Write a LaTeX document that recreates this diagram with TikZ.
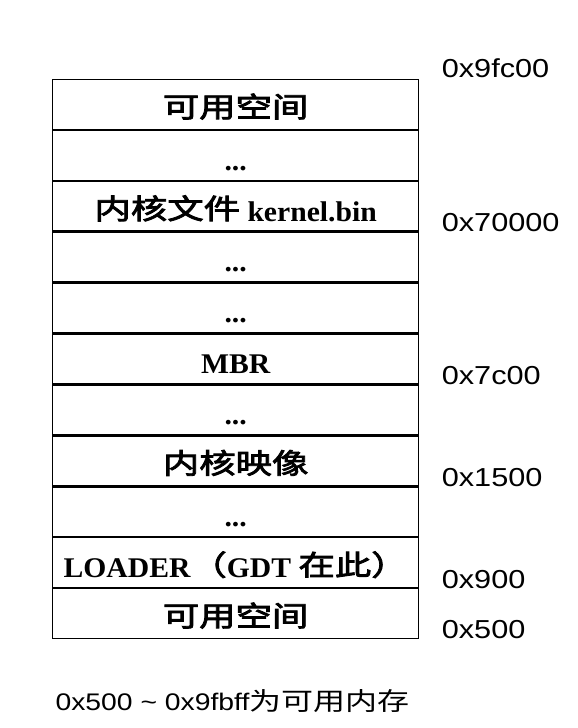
\documentclass[tikz,border=0pt]{standalone}
\usepackage{fontspec}
\setmainfont{Liberation Serif}[FakeStretch=1.04]
\setsansfont{Liberation Sans}[FakeStretch=1.18]
\newfontfamily\cjk{Noto Sans CJK SC}[FakeStretch=1.28]
\newfontfamily\cjkbox{Noto Sans CJK SC}[FakeStretch=1.3,FakeBold=3]
\usetikzlibrary{positioning}
\newcommand{\zh}[1]{{\cjkbox\mdseries\fontsize{28}{32}\selectfont\raisebox{2pt}{#1}}}

\begin{document}
\begin{tikzpicture}[
	memrow/.style={draw, line width=1.3pt, minimum width=366pt, minimum height=49.6pt,
		inner sep=0pt, text height=32pt, text depth=2.4pt,
		font=\fontsize{28.5}{34}\selectfont\bfseries},
	addr/.style={anchor=base west, font=\sffamily\fontsize{26}{30}\selectfont}
]
	\useasboundingbox (0,0) rectangle (578pt,-728pt);

	% memory rows, high address on top
	\node[memrow, anchor=north west] (freetop) at (52pt,-79pt) {\zh{可用空间}};
	\node[memrow, below=0pt of freetop] (dotsa) {...};
	\node[memrow, below=0pt of dotsa] (kernelbin) {\zh{内核文件} kernel.bin};
	\node[memrow, below=0pt of kernelbin] (dotsb) {...};
	\node[memrow, below=0pt of dotsb] (dotsc) {...};
	\node[memrow, below=0pt of dotsc] (mbr) {MBR};
	\node[memrow, below=0pt of mbr] (dotsd) {...};
	\node[memrow, below=0pt of dotsd] (kimage) {\zh{内核映像}};
	\node[memrow, below=0pt of kimage] (dotse) {...};
	\node[memrow, below=0pt of dotse] (loader) {LOADER\zh{（}GDT \zh{在此）}};
	\node[memrow, below=0pt of loader] (freelow) {\zh{可用空间}};

	% addresses
	\node[addr] (a9fc00) at ([xshift=19pt,yshift=2pt]freetop.north east) {0x9fc00};
	\node[addr] (a70000) at ([xshift=19pt]kernelbin.south east) {0x70000};
	\node[addr] (a7c00) at ([xshift=19pt]mbr.south east) {0x7c00};
	\node[addr] (a1500) at ([xshift=19pt]kimage.south east) {0x1500};
	\node[addr] (a900) at ([xshift=19pt]loader.south east) {0x900};
	\node[addr] (a500) at ([xshift=19pt]freelow.south east) {0x500};

	\node[anchor=base west, font=\sffamily\fontsize{24}{28}\selectfont] (note)
		at ([yshift=-72pt]freelow.south west) {0x500 \textasciitilde{} 0x9fbff{\cjk\fontsize{25}{28}\selectfont 为可用内存}};
\end{tikzpicture}
\end{document}
